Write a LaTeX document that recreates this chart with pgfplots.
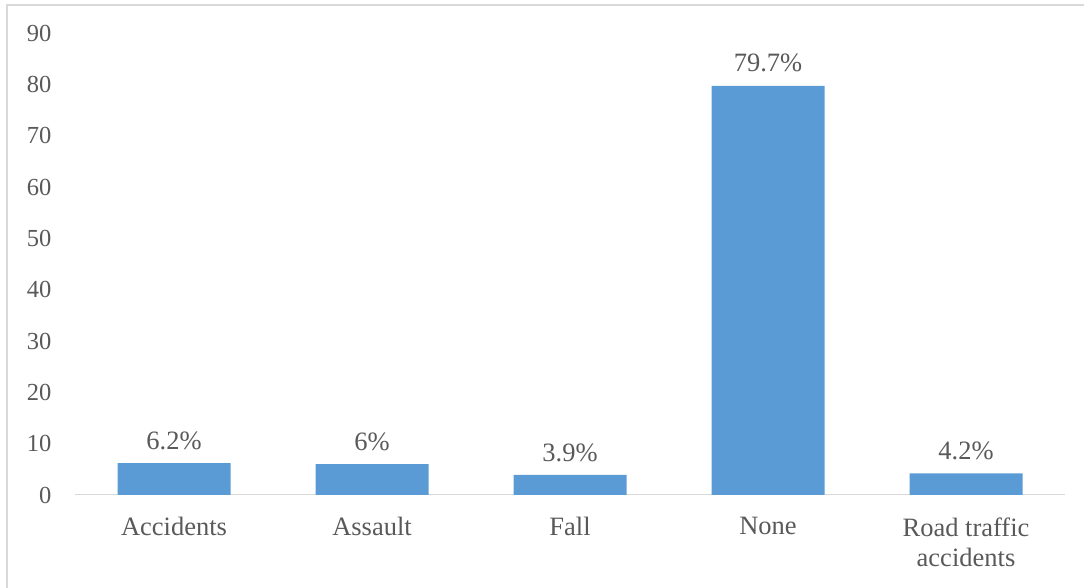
\documentclass[border=0pt]{standalone}
\usepackage{pgfplots}
\pgfplotsset{compat=1.18}
\usepackage{fontspec}
\setmainfont{Liberation Serif}
\definecolor{barblue}{HTML}{5B9BD5}
\definecolor{txt}{HTML}{595959}
\definecolor{frame}{HTML}{D9D9D9}
\begin{document}
\begin{tikzpicture}[x=1pt,y=1pt]
\useasboundingbox (0,0) rectangle (1084,588);
\draw[frame,line width=1.5pt] (7,0) -- (7,583) -- (1084,583);
\begin{axis}[
  at={(75pt,93pt)}, anchor=south west,
  scale only axis, width=990pt, height=462pt,
  xmin=-0.5, xmax=4.5, ymin=0, ymax=90,
  axis x line*=bottom, axis y line=none,
  x axis line style={frame, line width=1pt},
  ytick={0,10,...,90},
  xtick=data,
  xticklabels={Accidents,Assault,Fall,None,{Road traffic\\accidents}},
  xticklabel style={align=center, text=txt, font=\fontsize{26.5}{30}\selectfont},
  major tick length=0pt,
  xticklabel shift=19pt,
  ybar, bar width=113pt,
  nodes near coords,
  every node near coord/.append style={text=txt, font=\fontsize{26.5}{30}\selectfont, yshift=10pt},
  point meta=explicit symbolic,
  clip=false,
]
\addplot[fill=barblue, draw=none] coordinates {
 (0,6.2) [6.2\%]
 (1,6.0) [6\%]
 (2,3.9) [3.9\%]
 (3,79.7) [79.7\%]
 (4,4.2) [4.2\%]
};
\pgfplotsinvokeforeach{0,10,...,90}{
  \node[anchor=east, text=txt, font=\fontsize{24.5}{30}\selectfont] at (axis cs:-0.5,#1) [xshift=-20pt] {#1};
}
\end{axis}
\end{tikzpicture}
\end{document}
